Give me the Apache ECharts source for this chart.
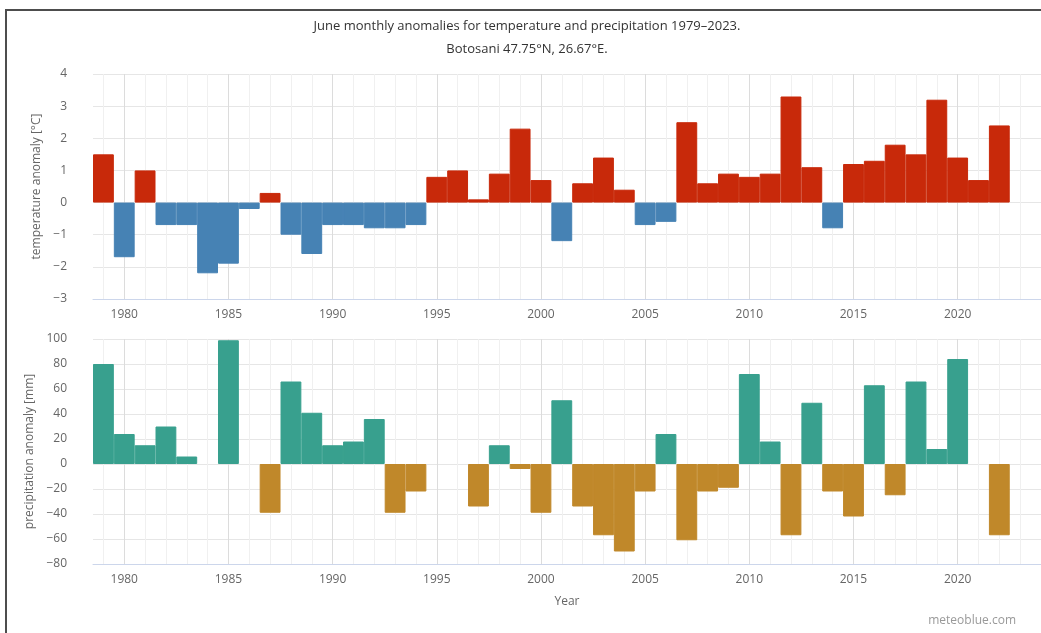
<!DOCTYPE html>
<html>
<head>
<meta charset="utf-8">
<script src="https://cdn.jsdelivr.net/npm/echarts@6/dist/echarts.min.js"></script>
<style>
  html, body { margin: 0; padding: 0; background: #fff; }
  #chart { width: 1041px; height: 633px; }
</style>
</head>
<body>
<div id="chart"></div>
<script>
// June anomalies, Botosani, one value per year
const years = [
  1979, 1980, 1981, 1982, 1983, 1984, 1985, 1986, 1987, 1988, 1989,
  1990, 1991, 1992, 1993, 1994, 1995, 1996, 1997, 1998, 1999,
  2000, 2001, 2002, 2003, 2004, 2005, 2006, 2007, 2008, 2009,
  2010, 2011, 2012, 2013, 2014, 2015, 2016, 2017, 2018, 2019,
  2020, 2021, 2022
];

// temperature anomaly [°C]
const tempAnomaly = [
  1.5, -1.7, 1.0, -0.7, -0.7, -2.2, -1.9, -0.2, 0.3, -1.0, -1.6,
  -0.7, -0.7, -0.8, -0.8, -0.7, 0.8, 1.0, 0.1, 0.9, 2.3,
  0.7, -1.2, 0.6, 1.4, 0.4, -0.7, -0.6, 2.5, 0.6, 0.9,
  0.8, 0.9, 3.3, 1.1, -0.8, 1.2, 1.3, 1.8, 1.5, 3.2,
  1.4, 0.7, 2.4
];

// precipitation anomaly [mm]; null = no bar
const precAnomaly = [
  80, 24, 15, 30, 6, null, 99, null, -39, 66, 41,
  15, 18, 36, -39, -22, null, null, -34, 15, -4,
  -39, 51, -34, -57, -70, -22, 24, -61, -22, -19,
  72, 18, -57, 49, -22, -42, 63, -25, 66, 12,
  84, null, -57
];

const tempTicks = { min: -3, max: 4, step: 1 };
const precTicks = { min: -80, max: 100, step: 20 };
const yearRange = { min: 1978.5, max: 2024 };

const titleText = 'June monthly anomalies for temperature and precipitation 1979\u20132023.';
const subtitleText = 'Botosani 47.75\u00b0N, 26.67\u00b0E.';

const FONT = '"Open Sans", "DejaVu Sans", sans-serif';
const colors = {
  warm: '#c8290a', cold: '#4682b4',
  wet: '#38a08e', dry: '#c0882a'
};

// [year, value] items coloured by sign; the thin same-colour border
// closes the hairline gaps between neighbouring bars.
function barItems(values, posColor, negColor) {
  const out = [];
  values.forEach((v, i) => {
    if (v === null) return;
    const c = v >= 0 ? posColor : negColor;
    out.push({
      value: [years[i], v],
      itemStyle: { color: c, borderColor: c, borderWidth: 1 }
    });
  });
  return out;
}

// Ticks every half year starting at 1978.5: half-year lines hidden,
// yearly lines light, every fifth year slightly darker.
const minor = '#f0f0f0', major = '#dcdcdc', none = 'rgba(0,0,0,0)';
const yearLineColors = [none, minor, none, major, none, minor, none, minor, none, minor];

function xAxisFor(gridIndex, withName) {
  return {
    type: 'value', gridIndex,
    min: yearRange.min, max: yearRange.max, interval: 0.5,
    axisLine: { show: true, onZero: false, lineStyle: { color: '#ccd6eb', width: 1 } },
    axisTick: { show: false },
    axisLabel: {
      color: '#666', fontSize: 12, fontFamily: FONT, margin: 10,
      showMinLabel: false, showMaxLabel: false,
      formatter: v => (Math.abs(v % 5) < 1e-9 ? String(v) : '')
    },
    splitLine: { show: true, lineStyle: { color: yearLineColors, width: 1 } },
    name: withName ? 'Year' : '',
    nameLocation: 'middle', nameGap: 32,
    nameTextStyle: { color: '#666', fontSize: 12, fontFamily: FONT }
  };
}

function yAxisFor(gridIndex, ticks, name, gap) {
  return {
    type: 'value', gridIndex,
    min: ticks.min, max: ticks.max, interval: ticks.step,
    axisLine: { show: false }, axisTick: { show: false },
    axisLabel: {
      color: '#666', fontSize: 12, fontFamily: FONT, margin: 26,
      formatter: v => (v < 0 ? '\u2212' + Math.abs(v) : String(v))
    },
    splitLine: { show: true, lineStyle: { color: '#e6e6e6', width: 1 } },
    name, nameLocation: 'middle', nameGap: gap, nameRotate: 90,
    nameTextStyle: { color: '#666', fontSize: 12, fontFamily: FONT }
  };
}

const chart = echarts.init(document.getElementById('chart'), null, { renderer: 'canvas' });

chart.setOption({
  backgroundColor: '#ffffff',
  animation: false,
  grid: [
    { left: 93, right: 0, top: 74, height: 225 },
    { left: 93, right: 0, top: 339, height: 225 }
  ],
  xAxis: [xAxisFor(0, false), xAxisFor(1, true)],
  yAxis: [
    yAxisFor(0, tempTicks, 'temperature anomaly [\u00b0C]', 48),
    yAxisFor(1, precTicks, 'precipitation anomaly [mm]', 56)
  ],
  series: [
    {
      type: 'bar', xAxisIndex: 0, yAxisIndex: 0,
      barWidth: '100%',
      data: barItems(tempAnomaly, colors.warm, colors.cold)
    },
    {
      type: 'bar', xAxisIndex: 1, yAxisIndex: 1,
      barWidth: '100%',
      data: barItems(precAnomaly, colors.wet, colors.dry)
    }
  ],
  graphic: [
    {
      type: 'polyline', silent: true, z: 100,
      shape: { points: [[6, 640], [6, 10], [1045, 10]] },
      style: { stroke: '#4d4d4d', lineWidth: 2, fill: null }
    },
    {
      type: 'text', x: 527, y: 26,
      style: { text: titleText, fill: '#333', font: '13px ' + FONT, textAlign: 'center', textVerticalAlign: 'middle' }
    },
    {
      type: 'text', x: 527, y: 49,
      style: { text: subtitleText, fill: '#333', font: '13px ' + FONT, textAlign: 'center', textVerticalAlign: 'middle' }
    },
    {
      type: 'text', x: 1016, y: 621,
      style: { text: 'meteoblue.com', fill: '#999', font: '12px ' + FONT, textAlign: 'right', textVerticalAlign: 'middle' }
    }
  ]
});
</script>
</body>
</html>
